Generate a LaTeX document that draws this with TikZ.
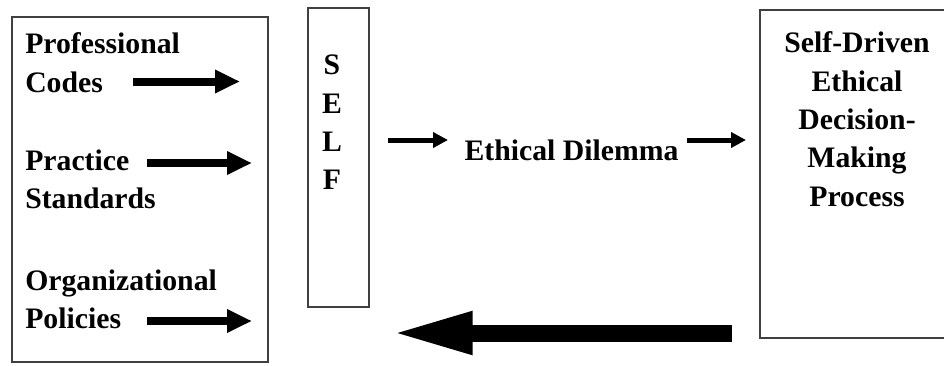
\documentclass[tikz,border=0pt]{standalone}
\usepackage{fontspec}
\setmainfont{Liberation Serif}
\usetikzlibrary{arrows.meta}
\begin{document}
\begin{tikzpicture}[x=0.75pt, y=-0.75pt,
  box/.style={draw=black!75, line width=1.1pt, inner sep=0pt},
  lbl/.style={inner sep=0pt, align=left, font=\bfseries\fontsize{22.3}{28.8}\selectfont},
  fatarrow/.style={line width=6pt, -{Triangle[length=18.75pt, width=16.5pt]}},
  thinarrow/.style={line width=3.75pt, -{Triangle[length=11.25pt, width=11.25pt]}},
  backarrow/.style={line width=12.75pt, -{Triangle[length=62pt, width=29pt]}}]
  \useasboundingbox (0,0) rectangle (944,365);
  \node[box, minimum width=192pt, minimum height=258.75pt] (sources) at (140,189.5) {};
  \node[box, minimum width=45.75pt, minimum height=224.25pt] (self) at (338.5,157.5) {};
  \node[box, minimum width=300pt, minimum height=246pt] (process) at (960,174) {};
  \node[lbl, anchor=north west] (codes) at (25,32.5) {Professional\\Codes};
  \node[lbl, anchor=north west] (standards) at (25,149.5) {Practice\\Standards};
  \node[lbl, anchor=north west] (policies) at (25,269.5) {Organizational\\Policies};
  \node[lbl, align=center] (selftxt) at (332,122.5) {S\\E\\L\\F};
  \node[lbl, anchor=base] (dilemma) at (571.5,160) {Ethical Dilemma};
  \node[lbl, align=center, anchor=north] (proctxt) at (857,31.5)
    {Self-Driven\\Ethical\\Decision-\\Making\\Process};
  \coordinate (codesA) at (133,81.5);
  \coordinate (codesB) at (240,81.5);
  \coordinate (standA) at (147,163);
  \coordinate (standB) at (252,163);
  \coordinate (polA) at (147,321);
  \coordinate (polB) at (252,321);
  \coordinate (selfA) at (388,140);
  \coordinate (selfB) at (448,140);
  \coordinate (dilA) at (687,140);
  \coordinate (dilB) at (746,140);
  \coordinate (backA) at (732,333);
  \coordinate (backB) at (390,333);
  \draw[fatarrow] (codesA) -- (codesB);
  \draw[fatarrow] (standA) -- (standB);
  \draw[fatarrow] (polA) -- (polB);
  \draw[thinarrow] (selfA) -- (selfB);
  \draw[thinarrow] (dilA) -- (dilB);
  \draw[backarrow] (backA) -- (backB);
\end{tikzpicture}
\end{document}
